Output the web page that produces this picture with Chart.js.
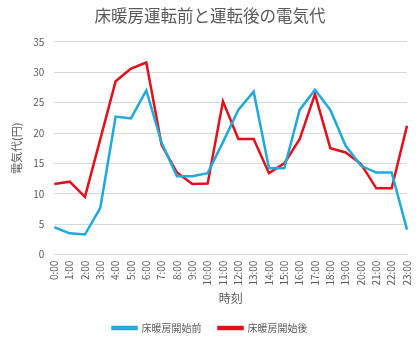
<!DOCTYPE html>
<html>
<head>
<meta charset="utf-8">
<script src="https://cdn.jsdelivr.net/npm/chart.js@4/dist/chart.umd.min.js"></script>
<style>
  html, body { margin: 0; padding: 0; background: #fff; }
</style>
</head>
<body>
<canvas id="chart" width="420" height="340"></canvas>
<script>
// hours of the day
const hours = ["0:00","1:00","2:00","3:00","4:00","5:00","6:00","7:00","8:00","9:00","10:00","11:00",
               "12:00","13:00","14:00","15:00","16:00","17:00","18:00","19:00","20:00","21:00","22:00","23:00"];

// cost per hour (yen)
const before = [4.5, 3.5, 3.3, 7.7, 22.7, 22.4, 27.0, 18.4, 12.9, 12.9, 13.4, 18.5,
                23.8, 26.8, 14.2, 14.2, 23.8, 27.1, 23.8, 17.9, 14.6, 13.5, 13.5, 4.1];
const after = [11.6, 12.0, 9.5, 19.0, 28.5, 30.6, 31.6, 18.0, 13.5, 11.6, 11.7, 25.2,
               19.0, 19.0, 13.4, 15.0, 19.0, 26.4, 17.5, 16.8, 14.9, 10.9, 10.9, 21.2];

const FONT = "'Noto Sans CJK JP', 'Noto Sans', sans-serif";
const GRAY = "#595959";

new Chart(document.getElementById("chart"), {
    type: "line",
    data: {
        labels: hours,
        datasets: [
            {
                label: "床暖房開始前",
                data: before,
                borderColor: "#1fa9dc",
                backgroundColor: "#1fa9dc",
                borderWidth: 2.5,
                pointRadius: 0,
                tension: 0
            },
            {
                label: "床暖房開始後",
                data: after,
                borderColor: "#e3101b",
                backgroundColor: "#e3101b",
                borderWidth: 2.5,
                pointRadius: 0,
                tension: 0
            }
        ]
    },
    options: {
        responsive: false,
        animation: false,
        devicePixelRatio: 1,
        // negative bottom lets the tall legend box hang off the canvas edge
        layout: { padding: { left: 0, right: 0, top: 4, bottom: -3 } },
        plugins: {
            title: {
                display: true,
                text: "床暖房運転前と運転後の電気代",
                color: GRAY,
                font: { family: FONT, size: 16.5, weight: "normal" },
                padding: { top: 2, bottom: 16 }
            },
            legend: {
                position: "bottom",
                labels: {
                    color: GRAY,
                    font: { family: FONT, size: 10 },
                    boxWidth: 24,
                    boxHeight: 2,
                    padding: 17
                }
            },
            tooltip: { enabled: false }
        },
        scales: {
            x: {
                grid: { display: false, drawTicks: false },
                border: { color: "#d9d9d9" },
                ticks: {
                    color: GRAY,
                    font: { family: FONT, size: 10 },
                    minRotation: 90,
                    maxRotation: 90,
                    autoSkip: false,
                    padding: 6
                },
                afterFit(scale) {
                    scale.paddingRight = 13;
                },
                title: {
                    display: true,
                    text: "時刻",
                    color: GRAY,
                    font: { family: FONT, size: 12 },
                    padding: { top: 0, bottom: 0 }
                }
            },
            y: {
                min: 0,
                max: 35,
                ticks: {
                    stepSize: 5,
                    color: GRAY,
                    font: { family: FONT, size: 10 },
                    padding: 10
                },
                grid: { color: "#d9d9d9", drawTicks: false },
                border: { display: false },
                title: {
                    display: true,
                    text: "電気代(円)",
                    color: GRAY,
                    font: { family: FONT, size: 11 },
                    padding: { top: 10, bottom: 0 }
                }
            }
        }
    }
});
</script>
</body>
</html>
